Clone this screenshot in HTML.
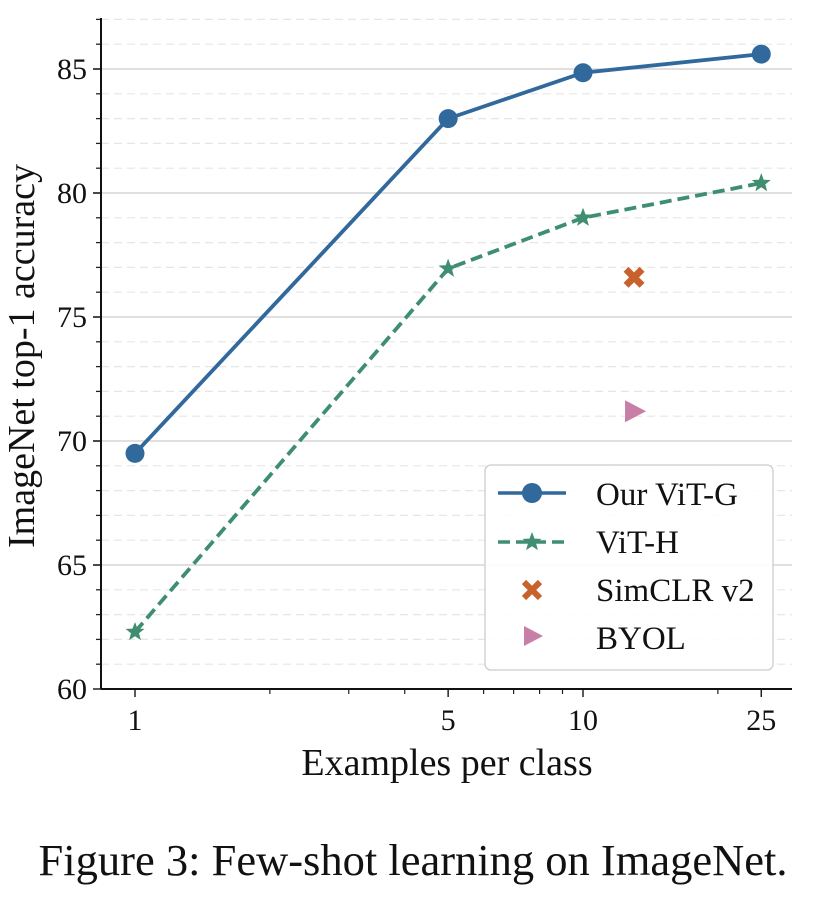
<!DOCTYPE html>
<html><head><meta charset="utf-8"><style>
body{margin:0;background:#fff;}
svg text{font-family:"Liberation Serif",serif;fill:#111;}
</style></head><body>
<svg width="815" height="897">
<g id="grid"></g>
<g id="series"></g>
<g id="axes"></g>
<text x="34" y="356" font-size="38" text-anchor="middle" transform="rotate(-90 34 356)">ImageNet top-1 accuracy</text>
<text x="447" y="775" font-size="38" text-anchor="middle">Examples per class</text>
<text x="413" y="875" font-size="44.5" text-anchor="middle">Figure 3: Few-shot learning on ImageNet.</text>
<g>
<rect x="485" y="465" width="288" height="205" rx="6" fill="#fff" fill-opacity="0.9" stroke="#ccc" stroke-width="1.3"/>
<line x1="498" y1="493" x2="566" y2="493" stroke="#31699c" stroke-width="3.5"/>
<circle cx="532" cy="493" r="10" fill="#31699c"/>
<text x="596" y="505" font-size="33">Our ViT-G</text>
<line x1="498" y1="542" x2="566" y2="542" stroke="#3f8e72" stroke-width="3.5" stroke-dasharray="12,6"/>
<polygon id="legstar" fill="#3f8e72"/>
<text x="596" y="553" font-size="33">ViT-H</text>
<path d="M524 582 L540 598 M540 582 L524 598" stroke="#c8612c" stroke-width="6"/>
<text x="596" y="601" font-size="33">SimCLR v2</text>
<polygon points="524,626 524,646 543,636" fill="#c77ea7"/>
<text x="596" y="649" font-size="33">BYOL</text>
</g>
</svg>
<script>
const vitGx=[1,5,10,25];
const vitGy=[69.5,83.0,84.85,85.6];
const vitHx=[1,5,10,25];
const vitHy=[62.3,76.95,79.0,80.4];
const simclrX=[13]; const simclrY=[76.6];
const byolX=[13]; const byolY=[71.2];
const xTicks=[1,5,10,25];
const xMinor=[2,3,4,6,7,8,9,20];
const yTicks=[60,65,70,75,80,85];
const NS="http://www.w3.org/2000/svg";
const L=101,R=792,T=18,B=689;
function X(v){return 135+Math.log10(v)*448;}
function Y(v){return 689-(v-60)*24.8;}
function mk(tag,at,par){const e=document.createElementNS(NS,tag);for(const k in at)e.setAttribute(k,at[k]);document.getElementById(par).appendChild(e);return e;}
for(let v=61;v<=87;v++){
 const major=v%5===0;
 const g=mk('line',{x1:L,x2:R,y1:Y(v),y2:Y(v),stroke:major?'#d6d6d6':'#e6e6e6','stroke-width':major?1.5:1.2,'stroke-dasharray':major?'':'8,5'},'grid');
 
 
 const t=mk('line',{x1:L-(major?8:5),x2:L,y1:Y(v),y2:Y(v),stroke:'#222','stroke-width':1.3},'axes');
 
 
}
yTicks.forEach(v=>{
 mk('line',{x1:L-8,x2:L,y1:Y(v),y2:Y(v),stroke:'#222','stroke-width':1.5},'axes');
 const t=mk('text',{x:L-14,y:Y(v)+10,'font-size':30,'text-anchor':'end'},'axes');t.textContent=v;
 
 
});
xTicks.forEach(v=>{
 mk('line',{x1:X(v),x2:X(v),y1:B,y2:B+8,stroke:'#222','stroke-width':1.5},'axes');
 const t=mk('text',{x:X(v),y:B+41,'font-size':30,'text-anchor':'middle'},'axes');t.textContent=v;
 
 
});
xMinor.forEach(v=>{mk('line',{x1:X(v),x2:X(v),y1:B,y2:B+5,stroke:'#222','stroke-width':1.2},'axes');});
mk('line',{x1:L,x2:L,y1:T,y2:B,stroke:'#111','stroke-width':2},'axes');
mk('line',{x1:L,x2:R,y1:B,y2:B,stroke:'#111','stroke-width':2},'axes');
function star(cx,cy,r){let p=[];for(let i=0;i<10;i++){const a=-Math.PI/2+i*Math.PI/5;const rr=i%2?r*0.42:r;p.push((cx+rr*Math.cos(a)).toFixed(1)+','+(cy+rr*Math.sin(a)).toFixed(1));}return p.join(' ');}
document.getElementById('legstar').setAttribute('points',star(532,542,10));
const pg=mk('polyline',{points:vitGx.map((x,i)=>X(x)+','+Y(vitGy[i])).join(' '),fill:'none',stroke:'#31699c','stroke-width':3.8},'series');


vitGx.forEach((x,i)=>{const c=mk('circle',{cx:X(x),cy:Y(vitGy[i]),r:9.5,fill:'#31699c'},'series');
 
 });
const ph=mk('polyline',{points:vitHx.map((x,i)=>X(x)+','+Y(vitHy[i])).join(' '),fill:'none',stroke:'#3f8e72','stroke-width':3.8,'stroke-dasharray':'12,6'},'series');


vitHx.forEach((x,i)=>{const s=mk('polygon',{points:star(X(x),Y(vitHy[i]),10),fill:'#3f8e72'},'series');
 
 });
simclrX.forEach((x,i)=>{const cx=X(x),cy=Y(simclrY[i]);
 const s=mk('path',{d:`M${cx-8} ${cy-8} L${cx+8} ${cy+8} M${cx+8} ${cy-8} L${cx-8} ${cy+8}`,stroke:'#c8612c','stroke-width':7},'series');
 
 });
byolX.forEach((x,i)=>{const cx=X(x),cy=Y(byolY[i]);
 const s=mk('polygon',{points:`${cx-9},${cy-11} ${cx-9},${cy+11} ${cx+12},${cy}`,fill:'#c77ea7'},'series');
 
 });
</script>
</body></html>
